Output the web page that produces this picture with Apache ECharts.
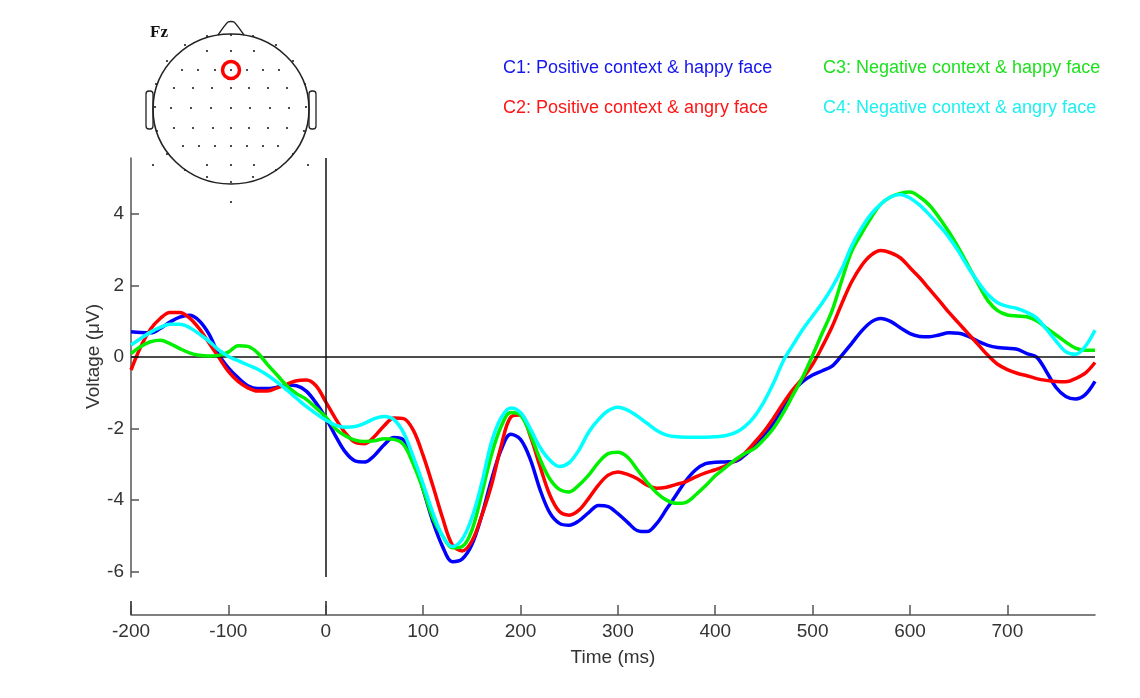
<!DOCTYPE html>
<html>
<head>
<meta charset="utf-8">
<script src="https://cdn.jsdelivr.net/npm/echarts@6/dist/echarts.min.js"></script>
<style>
html,body{margin:0;padding:0;background:#fff;}
#chart{width:1140px;height:698px;}
</style>
</head>
<body>
<div id="chart"></div>
<script>
// Time points (ms)
const times = [-200,-190,-180,-170,-160,-150,-140,-130,-120,-110,
  -100,-90,-80,-70,-60,-50,-40,-30,-20,-10,
  0,10,20,30,40,50,60,70,80,90,
  100,110,120,130,140,150,160,170,180,190,
  200,210,220,230,240,250,260,270,280,290,
  300,310,320,330,340,350,360,370,380,390,
  400,410,420,430,440,450,460,470,480,490,
  500,510,520,530,540,550,560,570,580,590,
  600,610,620,630,640,650,660,670,680,690,
  700,710,720,730,740,750,760,770,780,790];

const seriesNames = [
  'C1: Positive context & happy face',
  'C2: Positive context & angry face',
  'C3: Negative context & happy face',
  'C4: Negative context & angry face'
];

const c1 = [0.71,0.69,0.68,0.80,0.98,1.12,1.17,1.02,0.65,0.08,
  -0.30,-0.58,-0.80,-0.88,-0.88,-0.84,-0.78,-0.80,-0.95,-1.28,
  -1.70,-2.20,-2.65,-2.90,-2.93,-2.75,-2.45,-2.25,-2.32,-2.85,
  -3.70,-4.60,-5.30,-5.72,-5.65,-5.25,-4.45,-3.45,-2.60,-2.16,
  -2.30,-2.85,-3.70,-4.35,-4.65,-4.70,-4.58,-4.35,-4.15,-4.18,
  -4.38,-4.62,-4.85,-4.88,-4.65,-4.25,-3.85,-3.45,-3.15,-2.98,
  -2.94,-2.93,-2.92,-2.75,-2.50,-2.20,-1.85,-1.40,-0.95,-0.68,
  -0.50,-0.38,-0.25,0.05,0.38,0.72,0.98,1.08,1.00,0.82,
  0.66,0.58,0.57,0.62,0.68,0.67,0.58,0.44,0.33,0.27,
  0.25,0.22,0.10,0.00,-0.40,-0.85,-1.10,-1.17,-1.05,-0.68];

const c2 = [-0.36,0.29,0.78,1.08,1.25,1.25,1.10,0.80,0.40,0.00,
  -0.40,-0.68,-0.86,-0.95,-0.95,-0.86,-0.76,-0.66,-0.64,-0.80,
  -1.25,-1.72,-2.12,-2.38,-2.42,-2.22,-1.92,-1.70,-1.72,-2.05,
  -2.75,-3.60,-4.50,-5.25,-5.42,-5.15,-4.45,-3.60,-2.50,-1.68,
  -1.62,-2.20,-3.05,-3.85,-4.32,-4.42,-4.28,-3.95,-3.58,-3.30,
  -3.21,-3.28,-3.40,-3.58,-3.67,-3.64,-3.56,-3.48,-3.35,-3.24,
  -3.15,-3.05,-2.90,-2.70,-2.40,-2.08,-1.70,-1.28,-0.90,-0.58,
  -0.20,0.30,0.85,1.50,2.10,2.55,2.85,2.98,2.92,2.78,
  2.50,2.22,1.90,1.58,1.25,0.95,0.65,0.35,0.05,-0.20,
  -0.35,-0.45,-0.52,-0.60,-0.65,-0.68,-0.69,-0.60,-0.45,-0.15];

const c3 = [0.10,0.30,0.43,0.47,0.38,0.24,0.12,0.05,0.03,0.05,
  0.14,0.32,0.30,0.12,-0.20,-0.50,-0.80,-1.02,-1.18,-1.42,
  -1.67,-2.00,-2.20,-2.32,-2.36,-2.34,-2.28,-2.30,-2.45,-3.00,
  -3.70,-4.50,-5.00,-5.33,-5.30,-4.85,-3.85,-2.75,-1.95,-1.55,
  -1.62,-2.15,-2.85,-3.40,-3.70,-3.77,-3.58,-3.30,-2.95,-2.70,
  -2.66,-2.80,-3.15,-3.50,-3.80,-4.00,-4.09,-4.06,-3.85,-3.60,
  -3.32,-3.10,-2.88,-2.70,-2.56,-2.30,-1.98,-1.55,-1.05,-0.55,
  0.05,0.68,1.30,2.15,2.95,3.45,3.90,4.28,4.48,4.58,
  4.62,4.48,4.25,3.90,3.50,3.05,2.55,2.05,1.58,1.30,
  1.18,1.15,1.13,1.02,0.82,0.62,0.42,0.25,0.19,0.19];

const c4 = [0.34,0.52,0.70,0.83,0.92,0.92,0.83,0.65,0.45,0.20,
  0.02,-0.10,-0.22,-0.34,-0.50,-0.70,-0.92,-1.15,-1.38,-1.58,
  -1.76,-1.90,-1.96,-1.94,-1.85,-1.72,-1.66,-1.75,-2.12,-2.80,
  -3.55,-4.35,-5.00,-5.30,-5.10,-4.50,-3.55,-2.40,-1.70,-1.42,
  -1.55,-2.00,-2.52,-2.88,-3.06,-2.95,-2.60,-2.10,-1.75,-1.50,
  -1.40,-1.48,-1.65,-1.85,-2.05,-2.18,-2.23,-2.24,-2.24,-2.24,
  -2.23,-2.20,-2.12,-1.95,-1.67,-1.25,-0.72,-0.10,0.35,0.78,
  1.15,1.52,1.95,2.47,3.10,3.60,4.00,4.28,4.48,4.55,
  4.45,4.25,3.98,3.68,3.35,2.95,2.50,2.10,1.75,1.52,
  1.42,1.36,1.25,1.10,0.78,0.45,0.15,0.08,0.30,0.75];

const seriesValues = [c1, c2, c3, c4];
const seriesColors = ['#0000ff', '#ff0000', '#00f000', '#00ffff'];
const legendColors = ['#1515f0', '#ff1515', '#1ee01e', '#1ef0f0'];

const xTickLabels = [-200,-100,0,100,200,300,400,500,600,700];
const xLongTicks = [-200, 0];
const yTickLabels = [-6,-4,-2,0,2,4];

// Head-map electrode offsets (px) relative to head centre
const electrodes = [
  [-24,-58],[0,-58],[23,-58],
  [-49,-39],[-33,-39],[-16,-39],[0,-39],[16,-39],[32,-39],[48,-39],
  [-57,-21],[-38,-21],[-19,-21],[0,-21],[18,-21],[37,-21],[56,-21],
  [-60,-1],[-40,-1],[-20,-1],[0,-1],[19,-1],[39,-1],[58,-1],
  [-57,19],[-38,19],[-18,19],[0,19],[18,19],[37,19],[56,19],
  [-48,37],[-32,37],[-16,37],[0,37],[16,37],[32,37],[47,37],
  [-24,56],[0,56],[23,56],
  [-24,-73],[22,-73],[0,-74],[-46,-64],[45,-64],[-64,-48],[62,-48],
  [-75,-25],[74,-25],[-76,-2],[75,-2],[-74,22],[73,22],[-64,45],[62,45],
  [-46,61],[45,61],[-24,68],[22,68],[0,73],
  [-78,56],[77,56],[0,93]
];
const highlighted = [0,-39];

const head = {cx: 231, cy: 109, rx: 78, ry: 75};

const FONT = '"Liberation Sans", Arial, sans-serif';

const graphics = [];
graphics.push({type:'ellipse', shape:{cx:head.cx, cy:head.cy, rx:head.rx, ry:head.ry},
  style:{fill:'none', stroke:'#222', lineWidth:1.6}});
graphics.push({type:'polyline', shape:{points:[[head.cx-13,head.cy-head.ry+1],[head.cx-3,head.cy-head.ry-12],[head.cx+3,head.cy-head.ry-12],[head.cx+13,head.cy-head.ry+1]], smooth:0.2},
  style:{fill:'none', stroke:'#222', lineWidth:1.4}});
graphics.push({type:'rect', shape:{x:head.cx-head.rx-7, y:head.cy-18, width:7, height:38, r:3},
  style:{fill:'none', stroke:'#222', lineWidth:1.3}});
graphics.push({type:'rect', shape:{x:head.cx+head.rx, y:head.cy-18, width:7, height:38, r:3},
  style:{fill:'none', stroke:'#222', lineWidth:1.3}});
electrodes.forEach(function(e){
  graphics.push({type:'circle', shape:{cx:head.cx+e[0], cy:head.cy+e[1], r:1.1},
    style:{fill:'#222'}});
});
graphics.push({type:'circle', shape:{cx:head.cx+highlighted[0], cy:head.cy+highlighted[1], r:8.5},
  style:{fill:'none', stroke:'#ff0000', lineWidth:3.5}});
graphics.push({type:'text', style:{text:'Fz', x:150, y:33, font:'bold 17px "Liberation Serif", "DejaVu Serif", serif', fill:'#111', verticalAlign:'middle'}});

const chart = echarts.init(document.getElementById('chart'));

const series = seriesValues.map(function(vals, i){
  const s = {
    name: seriesNames[i],
    type: 'line',
    xAxisIndex: 0,
    smooth: 0.35,
    showSymbol: false,
    symbol: 'none',
    silent: true,
    data: times.map(function(t, k){ return [t, vals[k]]; }),
    lineStyle: {color: seriesColors[i], width: 3.5},
    itemStyle: {color: seriesColors[i]},
    z: 3 + i
  };
  if (i === 0) {
    s.markLine = {
      silent: true,
      symbol: ['none','none'],
      label: {show:false},
      lineStyle: {color:'#111', width:1.5, type:'solid'},
      emphasis: {disabled:true},
      data: [{yAxis: 0}, {xAxis: 0}]
    };
  }
  return s;
});

function legendData(idx){
  return idx.map(function(i){
    return {name: seriesNames[i], textStyle:{color: legendColors[i]}};
  });
}

chart.setOption({
  backgroundColor: '#fff',
  animation: false,
  graphic: graphics,
  legend: [
    {orient:'vertical', left:493, top:54, itemGap:22, itemWidth:0, itemHeight:0, icon:'none',
     selectedMode:false, textStyle:{fontSize:18, fontFamily:FONT}, data: legendData([0,1])},
    {orient:'vertical', left:813, top:54, itemGap:22, itemWidth:0, itemHeight:0, icon:'none',
     selectedMode:false, textStyle:{fontSize:18, fontFamily:FONT}, data: legendData([2,3])}
  ],
  grid: {left:131, right:45, top:158, bottom:121, containLabel:false},
  xAxis: [
    {
      type:'value', min:-200, max:790, position:'bottom', offset:38,
      name:'Time (ms)', nameLocation:'middle', nameGap:33,
      nameTextStyle:{fontSize:19, fontFamily:FONT, color:'#333'},
      axisLine:{show:true, onZero:false, lineStyle:{color:'#555', width:1.5}},
      axisTick:{show:true, inside:true, length:10, lineStyle:{color:'#555', width:1.5}, customValues: xTickLabels},
      axisLabel:{fontSize:19, fontFamily:FONT, color:'#333', margin:7, customValues: xTickLabels},
      splitLine:{show:false}
    },
    {
      type:'value', min:-200, max:790, position:'bottom', offset:38,
      axisLine:{show:false, onZero:false},
      axisTick:{show:true, inside:true, length:14, lineStyle:{color:'#444', width:1.8}, customValues: xLongTicks},
      axisLabel:{show:false},
      splitLine:{show:false}
    }
  ],
  yAxis: {
    type:'value', min:-6.15, max:5.57,
    name:'Voltage (\u03bcV)', nameLocation:'middle', nameGap:28, nameRotate:90,
    nameMoveOverlap:false,
    nameTextStyle:{fontSize:19, fontFamily:FONT, color:'#333', padding:[0,0,0,22]},
    axisLine:{show:true, onZero:false, lineStyle:{color:'#555', width:1.5}},
    axisTick:{show:true, inside:true, length:8, lineStyle:{color:'#555', width:1.5}, customValues: yTickLabels},
    axisLabel:{fontSize:19, fontFamily:FONT, color:'#333', margin:7, customValues: yTickLabels},
    splitLine:{show:false}
  },
  series: series
});
</script>
</body>
</html>
